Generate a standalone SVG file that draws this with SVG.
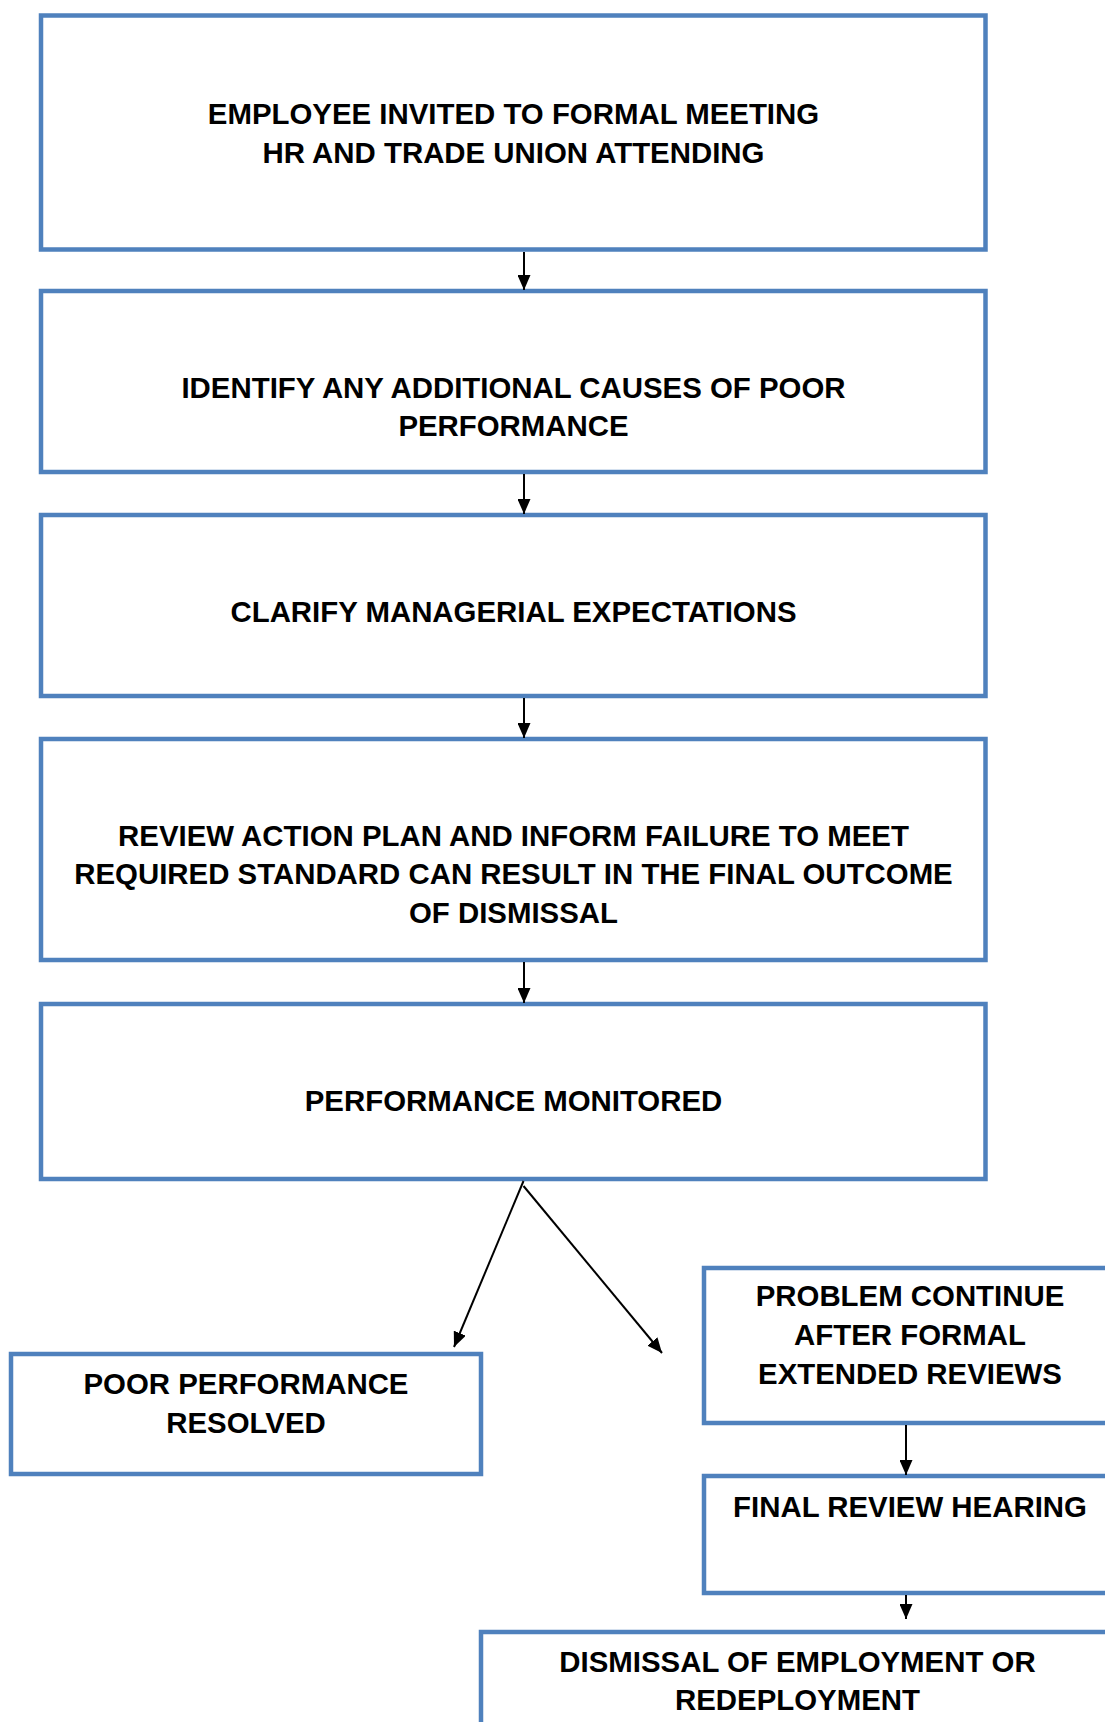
<svg xmlns="http://www.w3.org/2000/svg" width="1105" height="1722" viewBox="0 0 1105 1722">
<style>
.box{fill:#ffffff;stroke:#4F81BD;stroke-width:4.5}
.t{font-family:"Liberation Sans",Arial,sans-serif;font-weight:bold;font-size:29.4px;fill:#000;text-anchor:middle}
.c{stroke:#000;stroke-width:2;fill:none;marker-end:url(#ah)}
</style>
<defs>
<marker id="ah" markerUnits="userSpaceOnUse" markerWidth="15" markerHeight="13" refX="15" refY="6.5" orient="auto">
<path d="M0,0 L15,6.5 L0,13 z" fill="#000"/>
</marker>
</defs>
<rect width="1105" height="1722" fill="#ffffff"/>
<g id="n1"><rect class="box" x="41" y="15.5" width="944.5" height="234"/>
<text class="t" x="513.5" y="123.5">EMPLOYEE INVITED TO FORMAL MEETING</text>
<text class="t" x="513.5" y="162.5">HR AND TRADE UNION ATTENDING</text></g>
<g id="n2"><rect class="box" x="41" y="291" width="944.5" height="181"/>
<text class="t" x="513.5" y="397.5">IDENTIFY ANY ADDITIONAL CAUSES OF POOR</text>
<text class="t" x="513.5" y="436">PERFORMANCE</text></g>
<g id="n3"><rect class="box" x="41" y="515" width="944.5" height="181"/>
<text class="t" x="513.5" y="621.5">CLARIFY MANAGERIAL EXPECTATIONS</text></g>
<g id="n4"><rect class="box" x="41" y="739" width="944.5" height="221"/>
<text class="t" x="513.5" y="846">REVIEW ACTION PLAN AND INFORM FAILURE TO MEET</text>
<text class="t" x="513.5" y="884.3">REQUIRED STANDARD CAN RESULT IN THE FINAL OUTCOME</text>
<text class="t" x="513.5" y="922.7">OF DISMISSAL</text></g>
<g id="n5"><rect class="box" x="41" y="1004" width="944.5" height="175"/>
<text class="t" x="513.5" y="1110.5">PERFORMANCE MONITORED</text></g>
<g id="n6"><rect class="box" x="11" y="1354" width="470" height="120"/>
<text class="t" x="246" y="1393.7">POOR PERFORMANCE</text>
<text class="t" x="246" y="1432.5">RESOLVED</text></g>
<g id="n7"><rect class="box" x="704" y="1268" width="420" height="155"/>
<text class="t" x="910" y="1306">PROBLEM CONTINUE</text>
<text class="t" x="910" y="1345">AFTER FORMAL</text>
<text class="t" x="910" y="1383.5">EXTENDED REVIEWS</text></g>
<g id="n8"><rect class="box" x="704" y="1476" width="420" height="117"/>
<text class="t" x="910" y="1516.7">FINAL REVIEW HEARING</text></g>
<g id="n9"><rect class="box" x="481" y="1632" width="660" height="120"/>
<text class="t" x="797.5" y="1672.4">DISMISSAL OF EMPLOYMENT OR</text>
<text class="t" x="797.5" y="1710">REDEPLOYMENT</text></g>
<g id="connectors">
<line class="c" x1="524" y1="252" x2="524" y2="290"/>
<line class="c" x1="524" y1="474" x2="524" y2="514"/>
<line class="c" x1="524" y1="698" x2="524" y2="738"/>
<line class="c" x1="524" y1="962" x2="524" y2="1003"/>
<line class="c" x1="523.5" y1="1181" x2="454" y2="1347"/>
<line class="c" x1="523.5" y1="1186" x2="662" y2="1353"/>
<line class="c" x1="906" y1="1425" x2="906" y2="1475"/>
<line class="c" x1="906" y1="1595" x2="906" y2="1619"/>
</g>
</svg>
